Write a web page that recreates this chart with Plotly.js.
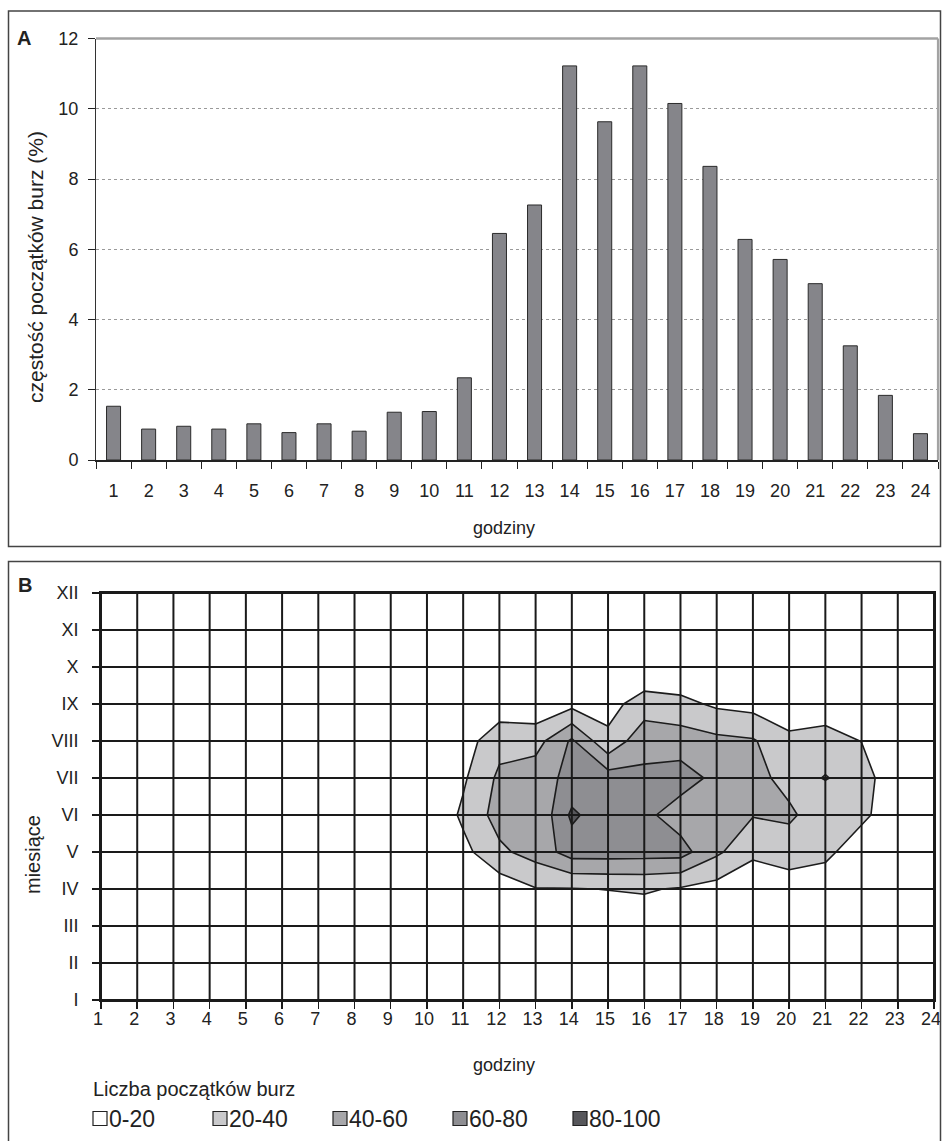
<!DOCTYPE html>
<html>
<head>
<meta charset="utf-8">
<script src="https://cdn.plot.ly/plotly-3.0.1.min.js"></script>
<style>
html,body{margin:0;padding:0;background:#fff;}
#chart{width:942px;height:1141px;}
</style>
</head>
<body>
<div id="chart"></div>
<script>
// ---------- DATA ----------
const hours = [1,2,3,4,5,6,7,8,9,10,11,12,13,14,15,16,17,18,19,20,21,22,23,24];
const hourLabels = hours.map(String);
// panel A: frequency of storm onsets (%)
const onsetFrequency = [1.53,0.88,0.96,0.88,1.03,0.78,1.03,0.82,1.36,1.38,2.34,6.45,
                        7.26,11.22,9.63,11.22,10.15,8.36,6.28,5.71,5.02,3.25,1.84,0.75];

// panel B: number of storm onsets by month (rows) and hour (columns 1..24)
const months = [1,2,3,4,5,6,7,8,9,10,11,12];
const monthLabels = ['I','II','III','IV','V','VI','VII','VIII','IX','X','XI','XII'];
const countsI    = [0,0,0,0,0,0,0,0,0,0, 0,0,0,0,0,0,0,0,0,0,0,0,0, 0];
const countsII   = [0,0,0,0,0,0,0,0,0,0, 0,0,0,0,0,0,0,0,0,0,0,0,0, 0];
const countsIII  = [0,0,0,0,0,0,0,0,0,0, 0,0,0,5,5,8,0,0,0,0,0,0,0, 0];
const countsIV   = [0,0,0,0,0,0,0,0,0,0, 5,8,19,19,20.5,22,18,12.5,2,13.5,0,0,0, 0];
const countsV    = [0,0,0,0,0,0,0,0,0,0, 14,36,48,69,69,68,68,43.5,25,26,28,1,0, 0];
const countsVI   = [0,0,0,0,0,0,0,0,0,0, 24,48,41,84,67,65,50,50,41,44.5,25,27,0, 0];
const countsVII  = [0,0,0,0,0,0,0,0,0,0, 17,44,52,65,70,63,69,55,48,32,41,32,0, 0];
const countsVIII = [0,0,0,0,0,0,0,0,0,0, 11,33,32,63,24,55,50,45,42,25,30,19.5,0, 0];
const countsIX   = [0,0,0,0,0,0,0,0,0,0, 3,7.5,6,14,14,28,26,16.5,13,6.5,6,0,0, 0];
const countsX    = [0,0,0,0,0,0,0,0,0,0, 0,0,0,0,2,5,1,0,0,0,0,0,0, 0];
const countsXI   = [0,0,0,0,0,0,0,0,0,0, 0,0,0,0,0,0,0,0,0,0,0,0,0, 0];
const countsXII  = [0,0,0,0,0,0,0,0,0,0, 0,0,0,0,0,0,0,0,0,0,0,0,0, 0];

const legendLabels = ['0-20','20-40','40-60','60-80','80-100'];
const bandColors = ['#ffffff','#c9c9cb','#a7a7aa','#8e8e92','#57575b'];

// ---------- BUILD ----------
const W = 942, H = 1141;
const px = v => v / W;
const py = v => 1 - v / H;
const FONT = 'Liberation Sans, Arial, Helvetica, sans-serif';

const zGrid = [countsI,countsII,countsIII,countsIV,countsV,countsVI,
               countsVII,countsVIII,countsIX,countsX,countsXI,countsXII];

const barTrace = {
  type:'bar', x:hourLabels, y:onsetFrequency, xaxis:'x', yaxis:'y',
  marker:{color:'#85858a', line:{color:'#2b2b2b', width:1}},
  hoverinfo:'x+y'
};

const contourTrace = {
  type:'contour', x:hours, y:months, z:zGrid, xaxis:'x2', yaxis:'y2',
  autocontour:false,
  contours:{start:20, end:80, size:20, coloring:'fill', showlines:true},
  line:{color:'#1c1c1c', width:1.6, smoothing:0},
  colorscale: bandColors.map((c,i)=>[i/(bandColors.length-1), c]),
  showscale:false, hoverinfo:'skip'
};

// grid of panel B drawn over the fills, from the tick arrays
const gx = [], gy = [];
hours.forEach(h => { gx.push(h, h, null); gy.push(months[0], months[months.length-1], null); });
months.forEach(m => { gx.push(hours[0], hours[hours.length-1], null); gy.push(m, m, null); });
const gridTrace = {
  type:'scatter', mode:'lines', x:gx, y:gy, xaxis:'x2', yaxis:'y2',
  line:{color:'#1a1a1a', width:2}, hoverinfo:'skip', connectgaps:false
};

const shapes = [
  // outer frames of panels
  {type:'rect', xref:'paper', yref:'paper', x0:px(8.5), x1:px(940.5), y0:py(546.5), y1:py(11),
   line:{color:'#444', width:1.5}, fillcolor:'rgba(0,0,0,0)'},
  {type:'rect', xref:'paper', yref:'paper', x0:px(8.5), x1:px(940.5), y0:py(1150), y1:py(561.5),
   line:{color:'#444', width:1.5}, fillcolor:'rgba(0,0,0,0)'},
  // grey plot-area border of panel A (top and right)
  {type:'line', xref:'x domain', yref:'y domain', x0:0, x1:1, y0:1, y1:1, line:{color:'#a3a3a3', width:2.6}},
  {type:'line', xref:'x domain', yref:'y domain', x0:1, x1:1, y0:0, y1:1, line:{color:'#a3a3a3', width:2.2}}
];

function note(text, x, y, size, extra) {
  return Object.assign({text:text, x:px(x), y:py(y), xref:'paper', yref:'paper', showarrow:false,
    xanchor:'center', yanchor:'middle', borderpad:0,
    font:{family:FONT, size:size, color:'#222'}}, extra || {});
}

const annotations = [
  note('<b>A</b>', 24, 38, 20),
  note('<b>B</b>', 25, 585, 20),
  note('częstość początków burz (%)', 35, 267, 21, {textangle:-90}),
  note('godziny', 504, 528, 18),
  note('godziny', 504, 1065, 18),
  note('miesiące', 33, 855, 20, {textangle:-90}),
  note('Liczba początków burz', 92, 1089, 20, {xanchor:'left'})
];

legendLabels.forEach((lab, i) => {
  const x0 = 93 + 120 * i;
  shapes.push({type:'rect', xref:'paper', yref:'paper', x0:px(x0), x1:px(x0 + 14), y0:py(1125.5), y1:py(1111.5),
               fillcolor:bandColors[i], line:{color:'#222', width:1.2}});
  annotations.push(note(lab, x0 + 15, 1118.5, 23, {xanchor:'left'}));
});

const layout = {
  width:W, height:H, autosize:false,
  margin:{l:0, r:0, t:0, b:0},
  paper_bgcolor:'#ffffff', plot_bgcolor:'rgba(0,0,0,0)',
  showlegend:false, bargap:0.6,
  font:{family:FONT, size:18, color:'#222'},
  xaxis:{domain:[px(96), px(938)], anchor:'y', type:'category', range:[-0.5, 23.5],
         tickson:'boundaries', ticks:'outside', ticklen:7, tickwidth:1, tickcolor:'#222',
         showline:true, linecolor:'#222', linewidth:2, showgrid:false, zeroline:false,
         ticklabelstandoff:13, tickfont:{family:FONT, size:18, color:'#222'}, fixedrange:true},
  yaxis:{domain:[py(460), py(38.5)], anchor:'x', range:[0, 12], tickvals:[0,2,4,6,8,10,12],
         ticks:'outside', ticklen:7, tickwidth:1, tickcolor:'#222',
         showline:true, linecolor:'#333', linewidth:1, showgrid:true, gridcolor:'#9a9a9a',
         griddash:'dot', gridwidth:1, zeroline:false, ticklabelstandoff:6,
         tickfont:{family:FONT, size:18, color:'#222'}, fixedrange:true},
  xaxis2:{domain:[px(101), px(934)], anchor:'y2', range:[1, 24], tickvals:hours, ticktext:hourLabels,
          ticks:'outside', ticklen:7, tickwidth:1.5, tickcolor:'#1a1a1a',
          showline:true, mirror:true, linecolor:'#1a1a1a', linewidth:2, showgrid:false, zeroline:false,
          ticklabelstandoff:-6, ticklabelshift:-3, ticklabeloverflow:'allow',
          tickfont:{family:FONT, size:18, color:'#222'}, fixedrange:true},
  yaxis2:{domain:[py(1000), py(593)], anchor:'x2', range:[1, 12], tickvals:months, ticktext:monthLabels,
          ticks:'outside', ticklen:7, tickwidth:1.5, tickcolor:'#1a1a1a',
          showline:true, mirror:true, linecolor:'#1a1a1a', linewidth:2, showgrid:false, zeroline:false,
          ticklabelstandoff:10, tickfont:{family:FONT, size:18, color:'#222'}, fixedrange:true},
  shapes:shapes,
  annotations:annotations
};

Plotly.newPlot('chart', [barTrace, contourTrace, gridTrace], layout, {displayModeBar:false, staticPlot:true});
</script>
</body>
</html>
